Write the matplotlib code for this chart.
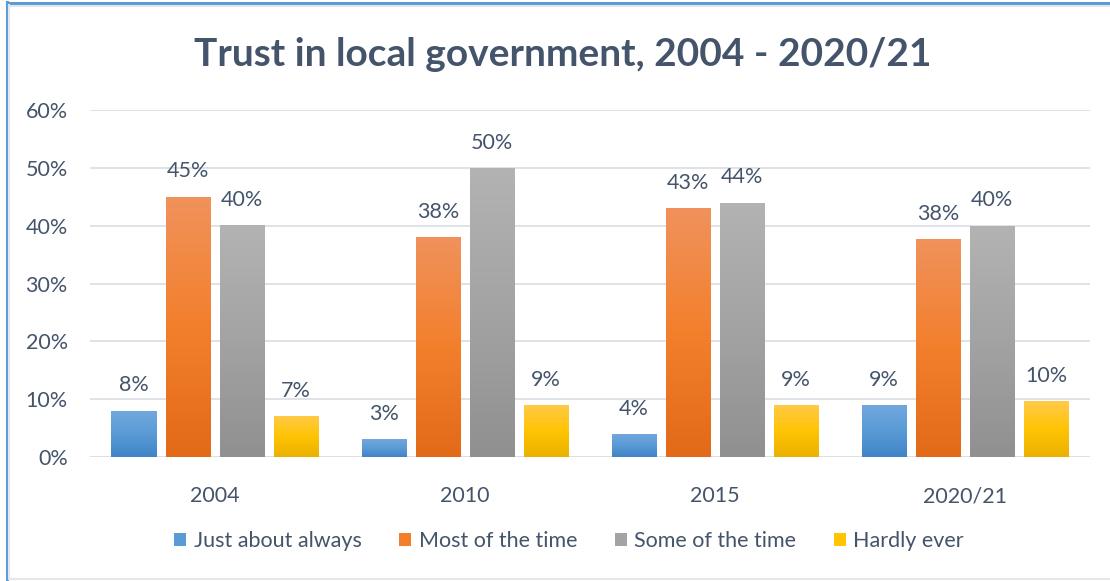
import numpy as np
import matplotlib
matplotlib.use("Agg")
import matplotlib.pyplot as plt
from matplotlib.colors import LinearSegmentedColormap
from matplotlib.patches import Patch
from matplotlib.lines import Line2D

plt.rcParams['font.family'] = ['Lato', 'DejaVu Sans']

years = ["2004", "2010", "2015", "2020/21"]
series_names = ["Just about always", "Most of the time", "Some of the time", "Hardly ever"]
just_about_always = [8.0, 3.1, 4.0, 9.0]
most_of_the_time = [45.0, 38.0, 43.0, 37.7]
some_of_the_time = [40.1, 50.0, 44.0, 40.0]
hardly_ever = [7.1, 9.0, 9.0, 9.6]
yticks = [0, 10, 20, 30, 40, 50, 60]

series = [just_about_always, most_of_the_time, some_of_the_time, hardly_ever]
# top tint, base, bottom shade
gradients = [
    ("#72A8DE", "#5B9BD5", "#3F84C8"),
    ("#F0925C", "#F37F2C", "#E26A19"),
    ("#B3B3B3", "#A3A3A3", "#909090"),
    ("#FFCA4A", "#FFC404", "#EAB100"),
]

TEXT = "#44546A"
GRID = "#DCE0E5"

fig = plt.figure(figsize=(11.1, 5.81), dpi=100)
W, H = 1110, 581
ax = fig.add_axes([90 / W, (H - 457) / H, 1000 / W, 347 / H])

x = np.arange(len(years))
step = 0.216
width = 0.18
for i, (vals, cols) in enumerate(zip(series, gradients)):
    offs = (i - 1.5) * step
    bars = ax.bar(x + offs, vals, width, facecolor="none", edgecolor="none", zorder=3)
    cmap = LinearSegmentedColormap.from_list(f"g{i}", [cols[2], cols[1], cols[0]])
    grad = np.linspace(0, 1, 256).reshape(-1, 1)
    for b in bars:
        x0, y0 = b.get_x(), b.get_y()
        w, h = b.get_width(), b.get_height()
        im = ax.imshow(grad, cmap=cmap, origin="lower", aspect="auto",
                       extent=(x0, x0 + w, y0, y0 + h), zorder=3, interpolation="bilinear")
        im.set_clip_path(b)
    ax.bar_label(bars, labels=[f"{v:.0f}%" for v in vals], padding=11,
                 fontsize=15.5, color=TEXT, zorder=4)

ax.set_xlim(-0.5, len(years) - 0.5)
ax.set_ylim(0, 60)
ax.set_yticks(yticks)
ax.set_yticklabels([f"{t}%" for t in yticks])
ax.set_xticks(x)
ax.set_xticklabels(years)
ax.tick_params(axis="both", length=0, labelsize=15.5, labelcolor=TEXT)
ax.tick_params(axis="y", pad=16)
ax.tick_params(axis="x", pad=21)
ax.yaxis.grid(True, color=GRID, linewidth=1.3, zorder=0)
ax.set_axisbelow(True)
for s in ax.spines.values():
    s.set_visible(False)
ax.axhline(0, color=GRID, linewidth=1.5, zorder=2)

fig.text(563 / W, 1 - 54 / H, "Trust in local government, 2004 - 2020/21",
         ha="center", va="center", fontsize=28, fontweight="bold", color=TEXT)

handles = [Patch(facecolor=g[1], edgecolor="none") for g in gradients]
fig.legend(handles, series_names, loc="center", bbox_to_anchor=(569 / W, 1 - 541 / H),
           ncol=4, frameon=False, fontsize=15.5, labelcolor=TEXT,
           handlelength=0.55, handleheight=0.55, handletextpad=0.35, columnspacing=1.75)

# outer frame: blue on top and left, light inner line
fig.add_artist(Line2D([6.5 / W, 6.5 / W], [0, 1 - 2 / H], color="#5B9BD5", linewidth=2.2,
                      transform=fig.transFigure))
fig.add_artist(Line2D([6.5 / W, 1], [1 - 3 / H, 1 - 3 / H], color="#5B9BD5", linewidth=2.2,
                      transform=fig.transFigure))
fig.add_artist(Line2D([9 / W, 9 / W], [2 / H, 1 - 5 / H], color="#E3E7EC", linewidth=1.5,
                      transform=fig.transFigure))
fig.add_artist(Line2D([9 / W, 1], [1 - 5.5 / H, 1 - 5.5 / H], color="#E3E7EC", linewidth=1.5,
                      transform=fig.transFigure))
fig.add_artist(Line2D([9 / W, 1], [2 / H, 2 / H], color="#E3E7EC", linewidth=1.5,
                      transform=fig.transFigure))

fig.savefig("out.png", dpi=100)
